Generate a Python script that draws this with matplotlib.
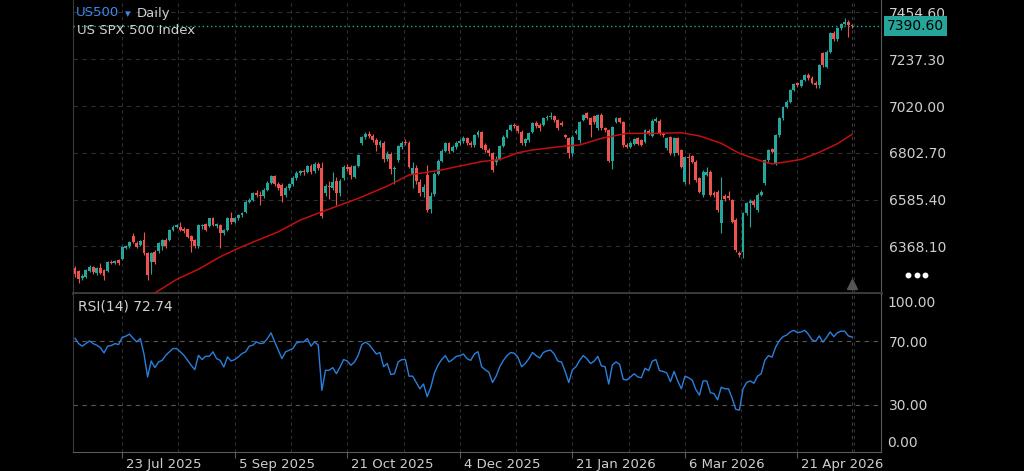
import numpy as np
import matplotlib.pyplot as plt
from matplotlib import transforms

# daily OHLC, one entry per bar (bar index is the x position)
opens = [
    6266, 6252, 6220, 6228, 6256, 6272, 6246, 6270, 6258, 6255,
    6297, 6293, 6305, 6308, 6362, 6368, 6416, 6386, 6375, 6398,
    6336, 6297, 6344, 6345, 6372, 6398, 6398, 6446, 6460, 6460,
    6447, 6447, 6416, 6398, 6368, 6462, 6470, 6463, 6498, 6463,
    6468, 6430, 6444, 6498, 6482, 6500, 6512, 6529, 6576, 6584,
    6615, 6606, 6600, 6631, 6664, 6693, 6656, 6655, 6605, 6640,
    6656, 6685, 6710, 6716, 6714, 6742, 6716, 6752, 6732, 6617,
    6650, 6640, 6670, 6615, 6684, 6738, 6738, 6692, 6741, 6847,
    6877, 6892, 6880, 6862, 6840, 6850, 6775, 6798, 6728, 6770,
    6830, 6854, 6850, 6700, 6730, 6665, 6620, 6700, 6540, 6610,
    6705, 6766, 6813, 6849, 6812, 6829, 6850, 6857, 6870, 6846,
    6840, 6886, 6901, 6840, 6816, 6800, 6760, 6775, 6834, 6878,
    6909, 6932, 6925, 6900, 6850, 6862, 6901, 6943, 6932, 6932,
    6963, 6967, 6972, 6955, 6943, 6885, 6870, 6800, 6896, 6862,
    6955, 6986, 6963, 6975, 6916, 6978, 6918, 6908, 6766, 6947,
    6963, 6947, 6839, 6832, 6845, 6870, 6862, 6854, 6905, 6880,
    6950, 6952, 6893, 6823, 6874, 6800, 6870, 6816, 6669, 6785,
    6788, 6761, 6684, 6607, 6700, 6715, 6615, 6622, 6475, 6602,
    6602, 6583, 6491, 6339, 6343, 6521, 6568, 6580, 6537, 6607,
    6661, 6769, 6819, 6751, 6885, 6963, 7017, 7040, 7094, 7125,
    7115, 7140, 7165, 7150, 7125, 7118, 7264, 7203, 7272, 7357,
    7330, 7380, 7400, 7412, 7396,
]
highs = [
    6275, 6258, 6240, 6262, 6280, 6278, 6272, 6290, 6262, 6302,
    6303, 6304, 6310, 6368, 6376, 6394, 6429, 6395, 6400, 6437,
    6342, 6342, 6350, 6390, 6402, 6408, 6450, 6466, 6474, 6482,
    6456, 6450, 6420, 6404, 6474, 6472, 6478, 6502, 6506, 6478,
    6474, 6450, 6504, 6530, 6504, 6518, 6528, 6582, 6592, 6622,
    6628, 6625, 6640, 6670, 6698, 6700, 6666, 6662, 6648, 6664,
    6694, 6716, 6722, 6728, 6748, 6750, 6758, 6760, 6762, 6660,
    6672, 6715, 6690, 6680, 6745, 6750, 6746, 6748, 6798, 6882,
    6898, 6905, 6890, 6872, 6862, 6856, 6810, 6805, 6740, 6840,
    6856, 6868, 6856, 6760, 6745, 6680, 6660, 6745, 6620, 6712,
    6772, 6820, 6855, 6854, 6840, 6856, 6866, 6880, 6878, 6856,
    6892, 6908, 6906, 6848, 6826, 6806, 6790, 6840, 6884, 6914,
    6936, 6942, 6930, 6908, 6872, 6898, 6946, 6952, 6940, 6968,
    6978, 6994, 6980, 6962, 6952, 6892, 6876, 6884, 6912, 6952,
    6984, 6994, 6970, 6980, 6985, 6986, 6924, 6915, 6928, 6970,
    6968, 6952, 6848, 6856, 6872, 6876, 6868, 6914, 6912, 6958,
    6968, 6958, 6898, 6876, 6880, 6876, 6878, 6822, 6790, 6796,
    6794, 6768, 6690, 6722, 6738, 6722, 6625, 6630, 6692, 6612,
    6625, 6590, 6498, 6348, 6528, 6575, 6588, 6588, 6614, 6630,
    6775, 6822, 6826, 6890, 6970, 7022, 7046, 7100, 7126, 7132,
    7146, 7170, 7172, 7158, 7134, 7216, 7272, 7278, 7362, 7366,
    7386, 7406, 7430, 7420, 7402,
]
lows = [
    6226, 6197, 6212, 6222, 6250, 6240, 6236, 6238, 6212, 6250,
    6286, 6286, 6282, 6304, 6355, 6362, 6384, 6360, 6368, 6330,
    6212, 6240, 6288, 6338, 6352, 6360, 6392, 6440, 6454, 6438,
    6432, 6408, 6344, 6360, 6362, 6448, 6440, 6456, 6462, 6455,
    6359, 6420, 6438, 6470, 6476, 6492, 6506, 6524, 6568, 6578,
    6596, 6560, 6592, 6624, 6656, 6648, 6628, 6575, 6598, 6630,
    6648, 6678, 6700, 6700, 6708, 6706, 6710, 6724, 6500, 6600,
    6590, 6632, 6560, 6600, 6678, 6720, 6680, 6688, 6735, 6840,
    6868, 6870, 6852, 6810, 6830, 6762, 6765, 6705, 6660, 6762,
    6822, 6840, 6730, 6640, 6660, 6600, 6598, 6530, 6521, 6600,
    6698, 6760, 6808, 6800, 6806, 6820, 6840, 6850, 6838, 6830,
    6832, 6876, 6820, 6808, 6790, 6715, 6748, 6768, 6828, 6872,
    6902, 6920, 6896, 6840, 6836, 6855, 6895, 6920, 6906, 6925,
    6956, 6960, 6948, 6910, 6926, 6870, 6777, 6790, 6888, 6850,
    6950, 6958, 6878, 6938, 6910, 6910, 6900, 6760, 6726, 6940,
    6940, 6830, 6825, 6826, 6840, 6838, 6834, 6848, 6884, 6874,
    6944, 6886, 6878, 6815, 6792, 6790, 6794, 6730, 6660, 6660,
    6755, 6668, 6614, 6598, 6694, 6600, 6596, 6530, 6432, 6580,
    6584, 6476, 6344, 6320, 6312, 6515, 6460, 6552, 6530, 6600,
    6655, 6762, 6800, 6745, 6878, 6956, 7010, 7034, 7088, 7108,
    7110, 7134, 7140, 7120, 7105, 7102, 7200, 7198, 7268, 7320,
    7324, 7374, 7394, 7339, 7384,
]
closes = [
    6240, 6218, 6232, 6258, 6274, 6248, 6268, 6244, 6232, 6297,
    6290, 6300, 6290, 6364, 6370, 6390, 6390, 6367, 6392, 6336,
    6235, 6336, 6297, 6385, 6398, 6370, 6444, 6460, 6468, 6445,
    6440, 6413, 6392, 6368, 6468, 6468, 6446, 6498, 6468, 6470,
    6429, 6444, 6498, 6482, 6498, 6514, 6522, 6576, 6584, 6615,
    6606, 6600, 6631, 6664, 6693, 6656, 6637, 6600, 6640, 6658,
    6688, 6710, 6716, 6712, 6742, 6714, 6752, 6732, 6510, 6650,
    6642, 6668, 6615, 6672, 6738, 6728, 6700, 6740, 6792, 6877,
    6890, 6880, 6862, 6840, 6851, 6775, 6796, 6728, 6732, 6832,
    6846, 6846, 6737, 6734, 6672, 6617, 6642, 6538, 6603, 6705,
    6766, 6813, 6849, 6812, 6829, 6850, 6857, 6870, 6846, 6840,
    6886, 6901, 6827, 6816, 6800, 6721, 6775, 6834, 6878, 6909,
    6932, 6929, 6905, 6847, 6866, 6893, 6940, 6928, 6916, 6963,
    6970, 6974, 6955, 6918, 6932, 6878, 6800, 6878, 6906, 6947,
    6978, 6963, 6932, 6945, 6978, 6916, 6910, 6766, 6921, 6963,
    6947, 6839, 6832, 6850, 6866, 6845, 6840, 6909, 6890, 6950,
    6960, 6893, 6885, 6870, 6800, 6870, 6800, 6738, 6785, 6778,
    6761, 6676, 6622, 6715, 6715, 6607, 6605, 6537, 6583, 6590,
    6591, 6483, 6351, 6328, 6521, 6568, 6580, 6560, 6607, 6622,
    6769, 6816, 6808, 6885, 6963, 7017, 7040, 7094, 7120, 7117,
    7140, 7165, 7150, 7128, 7118, 7210, 7210, 7272, 7357, 7330,
    7380, 7400, 7410, 7396, 7390.6,
]

# RSI(14), one value per bar
rsi_vals = [
    72.0, 68.6, 67.0, 68.6, 70.3, 68.6, 67.6, 66.0, 62.7, 67.0,
    67.4, 68.6, 68.0, 72.5, 73.3, 74.6, 72.0, 69.7, 71.8, 62.0,
    47.5, 57.6, 53.4, 57.0, 58.0, 61.2, 63.4, 65.5, 65.5, 63.4,
    61.2, 58.0, 54.9, 52.1, 61.2, 58.5, 60.6, 60.6, 63.4, 59.1,
    58.0, 53.8, 60.2, 57.6, 58.5, 60.2, 62.3, 63.4, 67.0, 67.6,
    69.7, 68.6, 69.0, 71.8, 75.4, 69.7, 64.4, 59.1, 63.4, 64.4,
    65.5, 69.0, 69.7, 69.7, 71.8, 67.0, 69.7, 67.6, 39.0, 51.7,
    51.7, 53.4, 49.6, 53.8, 58.5, 57.6, 54.9, 57.0, 61.2, 68.0,
    69.5, 68.0, 65.0, 62.0, 63.0, 54.0, 56.0, 49.0, 49.5, 57.0,
    58.5, 58.5, 48.0, 48.0, 44.0, 40.0, 43.0, 35.0, 41.0, 50.0,
    55.0, 58.5, 61.0, 57.0, 58.5, 60.5, 61.0, 62.0, 59.0, 58.0,
    62.0, 63.5, 54.0, 52.0, 50.5, 44.0, 48.0, 54.0, 58.0, 61.0,
    63.0, 62.5, 60.0, 54.0, 56.0, 59.0, 63.0, 61.0, 59.5, 63.0,
    64.0, 64.5, 62.0, 57.5, 57.0, 51.0, 44.0, 52.0, 54.0, 58.0,
    61.0, 59.0, 56.0, 57.5, 60.5, 54.5, 54.0, 43.0, 55.0, 57.0,
    55.5, 46.0, 45.5, 47.5, 49.5, 47.5, 47.0, 53.0, 51.5, 57.5,
    58.5, 51.5, 51.0, 50.0, 44.5, 51.0, 45.0, 40.0, 48.0, 47.0,
    45.5, 39.5, 36.0, 45.0, 45.0, 37.5, 37.0, 33.0, 41.0, 40.0,
    40.0, 34.0, 27.0, 26.5, 40.0, 44.0, 45.0, 43.5, 48.0, 49.5,
    58.0, 61.0, 60.0, 66.5, 70.5, 73.0, 74.0, 76.0, 77.0, 75.5,
    76.0, 77.0, 74.5, 71.0, 70.0, 73.5, 69.5, 72.5, 76.0, 73.0,
    75.5, 76.5, 76.5, 73.5, 72.74,
]

# moving average at these bars
ma_bars = [20, 22, 28, 34, 40, 46, 56, 62, 68, 78, 86, 92, 96, 101, 105,
           112, 117, 122, 126, 135, 139, 145, 152, 161, 167, 172, 178, 183,
           189, 192, 196, 200, 205, 210, 214]
ma_vals = [6138, 6152, 6215, 6262, 6320, 6367, 6436, 6490, 6529, 6591, 6648,
           6700, 6710, 6723, 6738, 6762, 6772, 6803, 6816, 6834, 6839, 6870,
           6893, 6893, 6896, 6881, 6847, 6800, 6765, 6751, 6761, 6772, 6805,
           6845, 6888]

price_ticks = [6368.10, 6585.40, 6802.70, 7020.00, 7237.30, 7454.60]
date_bars = [13, 44, 75, 106, 137, 168, 199]
date_labels = ["23 Jul 2025", "5 Sep 2025", "21 Oct 2025", "4 Dec 2025",
               "21 Jan 2026", "6 Mar 2026", "21 Apr 2026"]
last_price = 7390.60
last_rsi = 72.74

UP = "#26a69a"
DOWN = "#ef5350"
TXT = "#cfcfcf"
GRID = "#2e2e2e"
W, H = 1024, 471

fig = plt.figure(figsize=(W / 100, H / 100), dpi=100, facecolor="black")
ax1 = fig.add_axes([73 / W, (H - 293) / H, (881 - 73) / W, 293 / H])
ax2 = fig.add_axes([73 / W, (H - 452) / H, (881 - 73) / W, (452 - 294) / H])

for ax in (ax1, ax2):
    ax.set_facecolor("black")
    ax.set_xlim(-0.55, 222.0)
    for xv in np.arange(-2.5, 222, 15.5):
        ax.axvline(xv, color=GRID, lw=0.8, dashes=(3, 3), zorder=0)
    ax.axvline(len(closes) - 1, color="#3a3a48", lw=0.8, dashes=(3, 3), zorder=0)
    ax.spines["top"].set_visible(False)
    ax.spines["left"].set_color("#3a3a3a")
    ax.spines["right"].set_color("#5a5a5a")
    ax.yaxis.tick_right()
    ax.tick_params(axis="y", length=0, pad=6, labelsize=10, labelcolor=TXT)

# price panel
o, h, l, c = map(np.asarray, (opens, highs, lows, closes))
x = np.arange(len(c))
cols = np.where(c >= o, UP, DOWN)
ax1.vlines(x, l, h, colors=cols, lw=0.8, zorder=2)
ax1.bar(x, np.maximum(np.abs(c - o), 1.5), bottom=np.minimum(o, c),
        width=0.8, color=cols, linewidth=0, zorder=3)
ax1.plot(ma_bars, ma_vals, color="#c40f0f", lw=1.1, zorder=4)

ax1.set_ylim(6151.8, 7512.2)
for p in price_ticks:
    ax1.axhline(p, color=GRID, lw=0.8, dashes=(4, 4), zorder=0)
ax1.set_yticks(price_ticks)
ax1.set_yticklabels([f"{p:.2f}" for p in price_ticks])
ax1.set_xticks([])
ax1.spines["bottom"].set_color("#3c3c3c")
ax1.spines["bottom"].set_linewidth(2)

ax1.axhline(last_price, color=UP, lw=1, dashes=(1, 2), zorder=5)
ytrans = transforms.blended_transform_factory(ax1.transAxes, ax1.transData)
ax1.text(1.0 + 6 / 808, last_price, f"{last_price:.2f}", transform=ytrans,
         ha="left", va="center", fontsize=10, color="black",
         bbox=dict(boxstyle="square,pad=0.22", fc=UP, ec="none"))

xtrans = transforms.blended_transform_factory(ax1.transData, ax1.transAxes)
ax1.plot([len(c) - 1], [0.03], marker="^", ms=7, color="#555555",
         transform=xtrans, clip_on=False, zorder=6)
ax1.plot([1.0337, 1.0442, 1.0547], [0.062] * 3, "o", ms=3.2, color="white",
         transform=ax1.transAxes, clip_on=False)

# RSI panel
ax2.plot(x, rsi_vals, color="#2a7fdc", lw=1.0, zorder=3)
ax2.set_ylim(0, 100)
for r in (30, 70):
    ax2.axhline(r, color="#5a5a5a", lw=0.8, dashes=(4, 4), zorder=1)
ax2.set_yticks([30, 70])
ax2.set_yticklabels(["30.00", "70.00"])
rtrans = transforms.blended_transform_factory(ax2.transAxes, ax2.transData)
ax2.text(1.0 + 6 / 808, 99, "100.00", transform=rtrans, ha="left", va="top",
         fontsize=10, color=TXT)
ax2.text(1.0 + 6 / 808, 1, "0.00", transform=rtrans, ha="left", va="bottom",
         fontsize=10, color=TXT)
ax2.spines["bottom"].set_color("#5a5a5a")

ax2.set_xticks(date_bars)
ax2.set_xticklabels(date_labels)
ax2.tick_params(axis="x", length=4, color="#5a5a5a", labelsize=9.5,
                labelcolor=TXT, pad=0)
shift = transforms.ScaledTranslation(4 / 100, 0, fig.dpi_scale_trans)
for lab in ax2.get_xticklabels():
    lab.set_horizontalalignment("left")
    lab.set_transform(lab.get_transform() + shift)

# header texts
fig.text(76 / W, 1 - 13 / H, "US500", color="#3b8beb", fontsize=9.5, va="center")
fig.text(125 / W, 1 - 14 / H, "\u25be", color="#3b8beb", fontsize=8, va="center")
fig.text(137 / W, 1 - 13 / H, "Daily", color=TXT, fontsize=9.5, va="center")
fig.text(77 / W, 1 - 31 / H, "US SPX 500 Index", color=TXT, fontsize=9.5, va="center")
fig.text(78 / W, 1 - 306 / H, f"RSI(14) {last_rsi:.2f}", color=TXT, fontsize=10, va="center")

fig.savefig("out.png", dpi=100, facecolor="black")
